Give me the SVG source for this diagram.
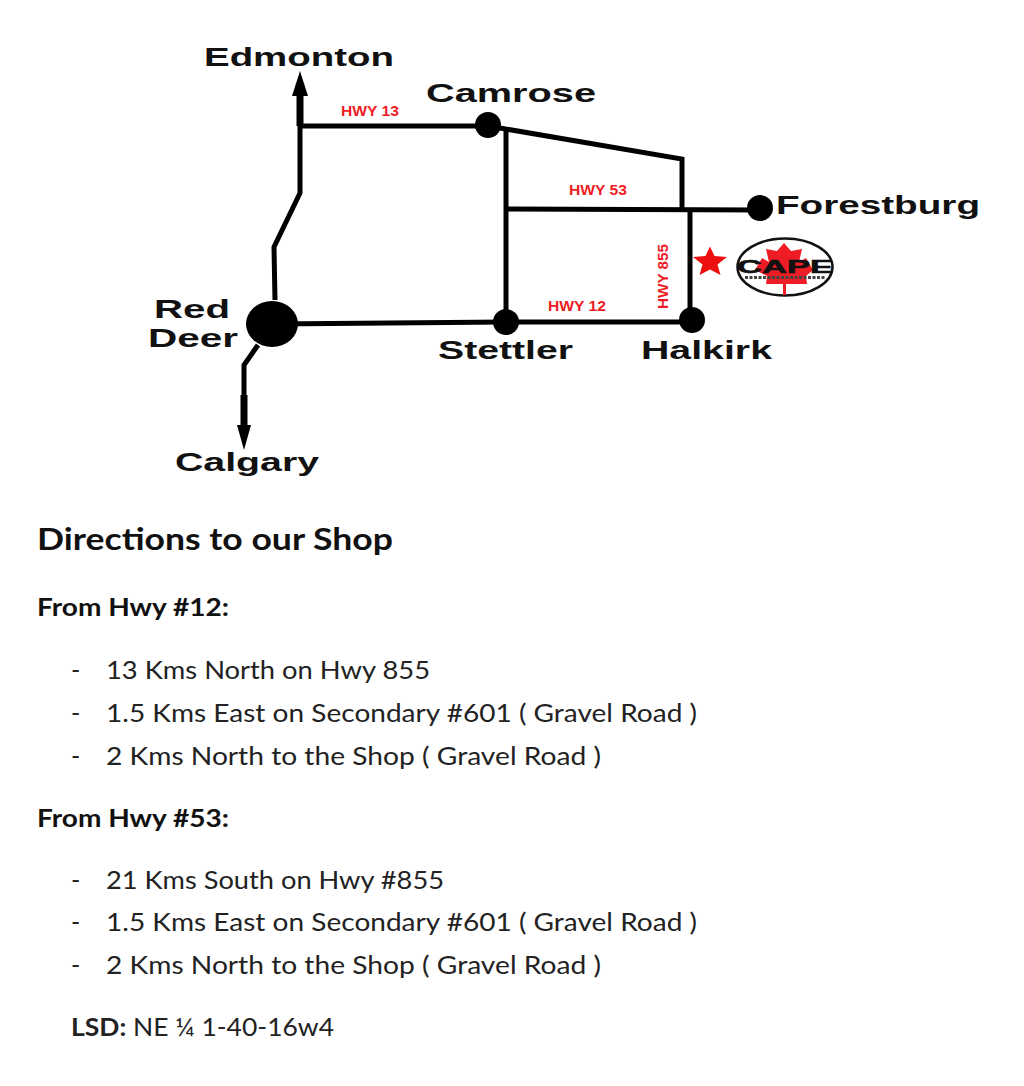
<svg xmlns="http://www.w3.org/2000/svg" width="1024" height="1086" viewBox="0 0 1024 1086">
<style>
.road{fill:none;stroke:#000;stroke-width:5;stroke-linejoin:miter}
.thick{fill:none;stroke:#000;stroke-width:7}
.head{fill:#000}
.city{font-family:"Liberation Sans",Arial,sans-serif;font-weight:700;font-size:25px;fill:#111}
.hwy{font-family:"Liberation Sans",Arial,sans-serif;font-weight:700;font-size:14px;fill:#ee1c25}
.h1{font-family:Lato,"Noto Sans",sans-serif;font-weight:700;font-size:31px;fill:#111}
.h2{font-family:Lato,"Noto Sans",sans-serif;font-weight:700;font-size:24px;fill:#111}
.li{font-family:Lato,"Noto Sans",sans-serif;font-size:25px;fill:#222}
</style>
<rect width="1024" height="1086" fill="#fff"/>
<g id="connectors">
<path class="road" d="M300 100V193L274 247L275 300"/>
<path class="thick" d="M300 94V126"/>
<path class="head" d="M300 71L292 96H308Z"/>
<path class="road" d="M300 126H488"/>
<path class="road" d="M488 126L682 159V209"/>
<path class="road" d="M506 130V322"/>
<path class="road" d="M506 209L760 210"/>
<path class="road" d="M690 209V321"/>
<path class="road" d="M272 324L506 322H692"/>
<path class="road" d="M258 345L244 365V395"/>
<path class="thick" d="M244 395V427"/>
<path class="head" d="M244 450L237 425H251Z"/>
</g>
<g id="node-red-deer"><ellipse cx="272" cy="324" rx="26" ry="23"/>
<text class="city" x="154" y="318" textLength="76" lengthAdjust="spacingAndGlyphs">Red</text>
<text class="city" x="148" y="347" textLength="90" lengthAdjust="spacingAndGlyphs">Deer</text></g>
<g id="node-camrose"><circle cx="488" cy="125" r="13"/>
<text class="city" x="426" y="102" textLength="170" lengthAdjust="spacingAndGlyphs">Camrose</text></g>
<g id="node-forestburg"><circle cx="760" cy="208" r="13"/>
<text class="city" x="776" y="214" textLength="204" lengthAdjust="spacingAndGlyphs">Forestburg</text></g>
<g id="node-stettler"><circle cx="506" cy="322" r="13"/>
<text class="city" x="438" y="359" textLength="135" lengthAdjust="spacingAndGlyphs">Stettler</text></g>
<g id="node-halkirk"><circle cx="692" cy="320" r="13"/>
<text class="city" x="641" y="359" textLength="131" lengthAdjust="spacingAndGlyphs">Halkirk</text></g>
<g id="node-edmonton"><text class="city" x="204" y="66" textLength="190" lengthAdjust="spacingAndGlyphs">Edmonton</text></g>
<g id="node-calgary"><text class="city" x="175" y="471" textLength="144" lengthAdjust="spacingAndGlyphs">Calgary</text></g>
<g id="highway-labels">
<text class="hwy" x="341" y="116" textLength="58" lengthAdjust="spacingAndGlyphs">HWY 13</text>
<text class="hwy" x="569" y="195" textLength="58" lengthAdjust="spacingAndGlyphs">HWY 53</text>
<text class="hwy" x="548" y="311" textLength="58" lengthAdjust="spacingAndGlyphs">HWY 12</text>
<text class="hwy" transform="translate(668 309) rotate(-90)" textLength="65" lengthAdjust="spacingAndGlyphs">HWY 855</text>
</g>
<g id="node-shop">
<path d="M710 246.500L714.500 256L727 257L717.500 264.500L720.500 275L710 269.500L699.500 275L702.500 264.500L693 257L705.500 256Z" fill="#ee1010"/>
<g id="cape-logo">
<ellipse cx="785" cy="267" rx="47.500" ry="28.500" fill="#fff" stroke="#111" stroke-width="2.500"/>
<path d="M784 243L791 251L802 249L799 262L806 258L813 270L806 276L807 284H786V295H783V284H766L767 276L755 270L762 258L769 262L766 249L777 251Z" fill="#ee1c25"/>
<text x="737" y="273" textLength="96" lengthAdjust="spacingAndGlyphs" font-family="Liberation Sans,sans-serif" font-weight="700" font-size="18" fill="#111" stroke="#111" stroke-width=".6">CAPE</text>
<path d="M745 277.500H825" stroke="#444" stroke-width="3" stroke-dasharray="3 1.500" fill="none"/>
</g>
</g>
<g id="directions">
<text class="h1" x="37" y="550" textLength="356" lengthAdjust="spacingAndGlyphs">Directions to our Shop</text>
<text class="h2" x="37" y="616" textLength="192" lengthAdjust="spacingAndGlyphs">From Hwy #12:</text>
<text class="li" x="71" y="679">-</text><text class="li" x="106" y="679" textLength="324" lengthAdjust="spacingAndGlyphs">13 Kms North on Hwy 855</text>
<text class="li" x="71" y="722">-</text><text class="li" x="106" y="722" textLength="591" lengthAdjust="spacingAndGlyphs">1.5 Kms East on Secondary #601 ( Gravel Road )</text>
<text class="li" x="71" y="765">-</text><text class="li" x="106" y="765" textLength="495" lengthAdjust="spacingAndGlyphs">2 Kms North to the Shop ( Gravel Road )</text>
<text class="h2" x="37" y="827" textLength="192" lengthAdjust="spacingAndGlyphs">From Hwy #53:</text>
<text class="li" x="71" y="889">-</text><text class="li" x="106" y="889" textLength="338" lengthAdjust="spacingAndGlyphs">21 Kms South on Hwy #855</text>
<text class="li" x="71" y="931">-</text><text class="li" x="106" y="931" textLength="591" lengthAdjust="spacingAndGlyphs">1.5 Kms East on Secondary #601 ( Gravel Road )</text>
<text class="li" x="71" y="974">-</text><text class="li" x="106" y="974" textLength="495" lengthAdjust="spacingAndGlyphs">2 Kms North to the Shop ( Gravel Road )</text>
<text class="li" x="71" y="1036" textLength="263" lengthAdjust="spacingAndGlyphs"><tspan font-weight="700">LSD:</tspan> NE ¼ 1-40-16w4</text>
</g>
</svg>
